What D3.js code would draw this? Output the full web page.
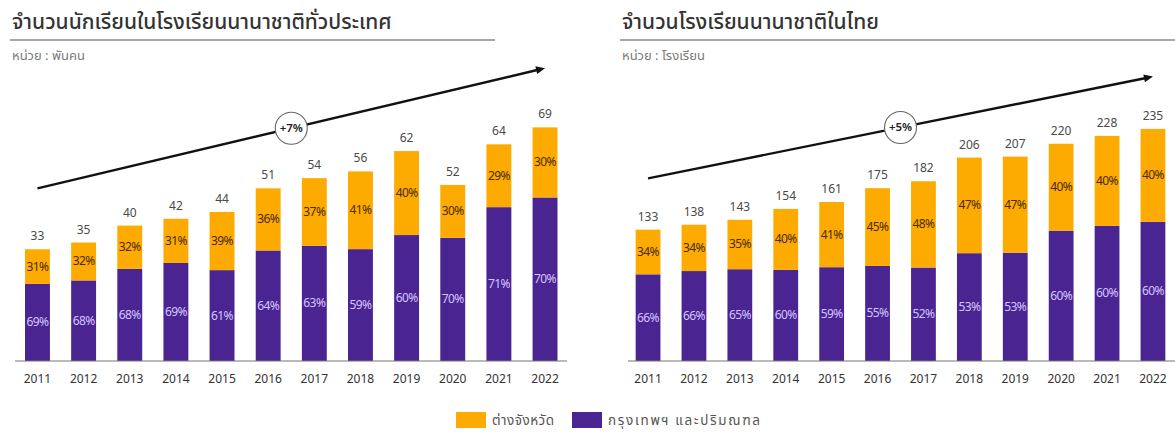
<!DOCTYPE html>
<html><head><meta charset="utf-8">
<script src="https://cdn.jsdelivr.net/npm/d3@7"></script>
<style>
body{margin:0;background:#fff;}
text{font-family:"Noto Sans Thai","Noto Sans","Tahoma",sans-serif;}
</style></head>
<body><svg id="c" width="1175" height="437"></svg>
<script>
const years = ["2011","2012","2013","2014","2015","2016","2017","2018","2019","2020","2021","2022"];
const studentsTotal = [33,35,40,42,44,51,54,56,62,52,64,69];
const studentsBkkPct = [69,68,68,69,61,64,63,59,60,70,71,70];
const studentsProvPct = [31,32,32,31,39,36,37,41,40,30,29,30];
const schoolsTotal = [133,138,143,154,161,175,182,206,207,220,228,235];
const schoolsBkkPct = [66,66,65,60,59,55,52,53,53,60,60,60];
const schoolsProvPct = [34,34,35,40,41,45,48,47,47,40,40,40];
const titles = ["จำนวนนักเรียนในโรงเรียนนานาชาติทั่วประเทศ","จำนวนโรงเรียนนานาชาติในไทย"];
const units = ["หน่วย : พันคน","หน่วย : โรงเรียน"];
const growth = ["+7%","+5%"];
// trend arrow start/end in data units
const trendLeft = [51, 86.5];
const trendRight = [185, 288];
const legendLabels = ["ต่างจังหวัด","กรุงเทพฯ และปริมณฑล"];

const ORANGE = "#FDAB00", PURPLE = "#4A2592";
const svg = d3.select("#c");

function panel(cfg){
  const g = svg.append("g");
  const x = d3.scaleBand().domain(years).range(cfg.xr).paddingInner(0.46).paddingOuter(0.23);
  const y = d3.scaleLinear().domain([0, cfg.ymax]).range([361, 124]);
  // title
  g.append("text").attr("x", cfg.tx).attr("y", 29).attr("font-size", 21).attr("font-weight", 500)
    .attr("fill", "#333").text(cfg.title);
  g.append("line").attr("x1", cfg.lx[0]).attr("x2", cfg.lx[1]).attr("y1", 40).attr("y2", 40)
    .attr("stroke", "#8a8a8a").attr("stroke-width", 1.5);
  g.append("text").attr("x", cfg.tx).attr("y", 60).attr("font-size", 13).attr("fill", "#7a7a7a").text(cfg.unit);

  const data = years.map((yr, i) => {
    const t = cfg.total[i], b = t * cfg.bkk[i] / 100;
    return {yr, t, b, bp: cfg.bkk[i], pp: cfg.prov[i]};
  });
  const bw = x.bandwidth();
  // purple
  g.selectAll(".b").data(data).enter().append("rect")
    .attr("x", d => x(d.yr)).attr("width", bw)
    .attr("y", d => y(d.b)).attr("height", d => y(0) - y(d.b)).attr("fill", PURPLE);
  // orange
  g.selectAll(".o").data(data).enter().append("rect")
    .attr("x", d => x(d.yr)).attr("width", bw)
    .attr("y", d => y(d.t)).attr("height", d => y(d.b) - y(d.t)).attr("fill", ORANGE);
  // pct labels
  g.selectAll(".pb").data(data).enter().append("text")
    .attr("x", d => x(d.yr) + bw/2).attr("y", d => (y(0) + y(d.b))/2 + 4)
    .attr("text-anchor", "middle").attr("font-size", 12).attr("fill", "#d6c4ff")
    .attr("letter-spacing", -0.6).text(d => d.bp + "%");
  g.selectAll(".po").data(data).enter().append("text")
    .attr("x", d => x(d.yr) + bw/2).attr("y", d => (y(d.b) + y(d.t))/2 + 4)
    .attr("text-anchor", "middle").attr("font-size", 12).attr("fill", "#4a2a08")
    .attr("letter-spacing", -0.6).text(d => d.pp + "%");
  // totals
  g.selectAll(".tv").data(data).enter().append("text")
    .attr("x", d => x(d.yr) + bw/2).attr("y", d => y(d.t) - 9)
    .attr("text-anchor", "middle").attr("font-size", 12).attr("fill", "#4a4a4a").text(d => d.t);
  // axis
  const ax = g.append("g").attr("transform", "translate(0,361)")
    .call(d3.axisBottom(x).tickSize(0).tickPadding(13));
  ax.select(".domain").attr("stroke", "#777").attr("stroke-width", 1.2).attr("d", `M${cfg.axr[0]},0H${cfg.axr[1]}`);
  ax.selectAll("text").attr("font-size", 12).attr("fill", "#333")
    .style("font-family", '"Noto Sans Thai","Noto Sans",sans-serif');
  // trend arrow
  const x0 = x(years[0]) + bw/2, x1 = x(years[years.length-1]) + bw/2;
  const y0 = y(cfg.trend[0]), y1 = y(cfg.trend[1]);
  const ang = Math.atan2(y1 - y0, x1 - x0);
  g.append("line").attr("x1", x0).attr("y1", y0)
    .attr("x2", x1 - 7*Math.cos(ang)).attr("y2", y1 - 7*Math.sin(ang))
    .attr("stroke", "#111").attr("stroke-width", 2.4);
  const ah = 9, aw = 4;
  const bx = x1 - ah*Math.cos(ang), by = y1 - ah*Math.sin(ang);
  g.append("path").attr("d",
    `M${x1},${y1}L${bx + aw*Math.sin(ang)},${by - aw*Math.cos(ang)}L${bx - aw*Math.sin(ang)},${by + aw*Math.cos(ang)}Z`)
    .attr("fill", "#111");
  const cx = (x0 + x1)/2, cy = (y0 + y1)/2;
  g.append("circle").attr("cx", cx).attr("cy", cy).attr("r", 16).attr("fill", "#fff")
    .attr("stroke", "#666").attr("stroke-width", 1.1);
  g.append("text").attr("x", cx).attr("y", cy + 4).attr("text-anchor", "middle")
    .attr("font-size", 11.5).attr("font-weight", 600).attr("fill", "#222").text(cfg.growth);
}

panel({xr:[14.4, 568.1], ymax:70, total:studentsTotal, bkk:studentsBkkPct, prov:studentsProvPct,
  title:titles[0], unit:units[0], tx:12, lx:[10,495], axr:[15,567], trend:trendLeft, growth:growth[0]});
panel({xr:[625.1, 1175.9], ymax:240, total:schoolsTotal, bkk:schoolsBkkPct, prov:schoolsProvPct,
  title:titles[1], unit:units[1], tx:622, lx:[620,1175], axr:[628,1175], trend:trendRight, growth:growth[1]});

// legend
const leg = svg.append("g");
const legColors = [ORANGE, PURPLE];
const legX = [456, 572];
const legTextLen = [62, 152];
legendLabels.forEach((l, i) => {
  leg.append("rect").attr("x", legX[i]).attr("y", 412).attr("width", 30).attr("height", 16).attr("fill", legColors[i]);
  leg.append("text").attr("x", legX[i] + 36).attr("y", 425).attr("font-size", 13.5).attr("fill", "#555")
    .attr("textLength", legTextLen[i]).attr("lengthAdjust", "spacing").text(l);
});
</script></body></html>
